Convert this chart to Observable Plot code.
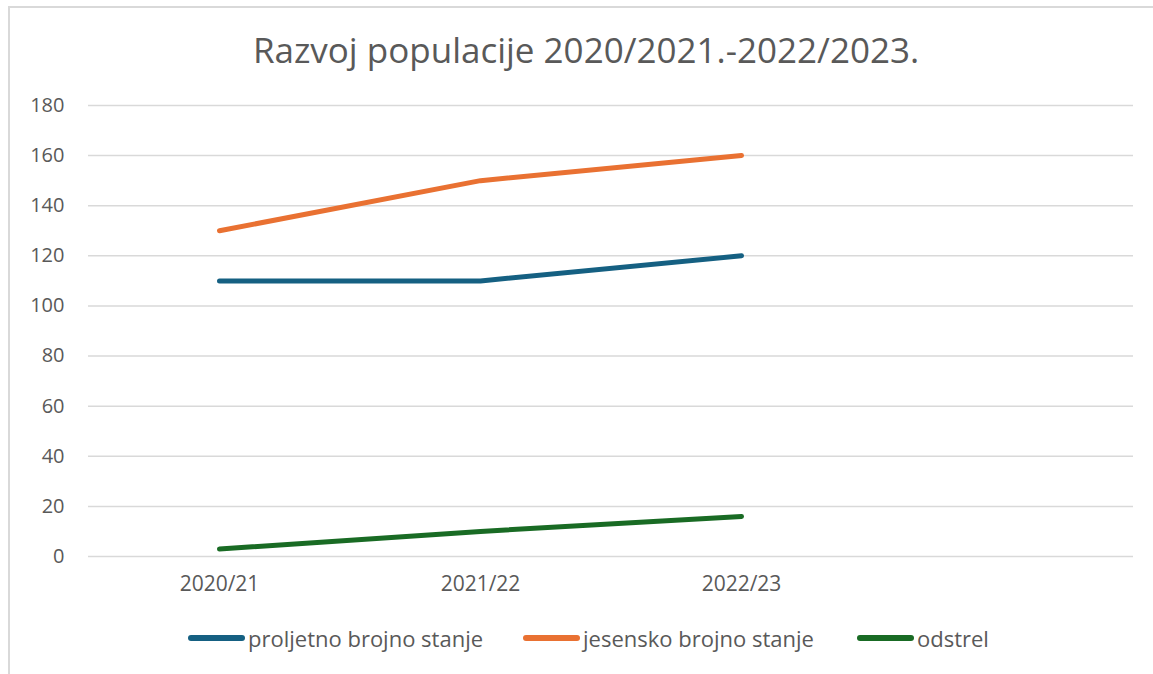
<!DOCTYPE html>
<html>
<head>
<meta charset="utf-8">
<script src="https://cdn.jsdelivr.net/npm/d3@7"></script>
<script src="https://cdn.jsdelivr.net/npm/@observablehq/plot@0.6"></script>
<style>
  html, body { margin: 0; padding: 0; background: #fff; }
  body { width: 1153px; height: 674px; position: relative; overflow: hidden; font-family: "Open Sans", "Liberation Sans", Arial, sans-serif; color: #595959; }
  #frame { position: absolute; left: 8px; top: 6px; width: 1200px; height: 700px; border-top: 2px solid #d9d9d9; border-left: 2px solid #d9d9d9; box-sizing: border-box; }
  #title { position: absolute; left: 0; top: 28px; width: 1172px; text-align: center; font-size: 35px; line-height: 44px; }
  #chart { position: absolute; left: 0; top: 80px; }
  #legend { position: absolute; top: 622px; left: 0; width: 1153px; height: 32px; font-size: 22px; }
  .item { position: absolute; top: 0; display: flex; align-items: center; height: 32px; }
  .sw { width: 57px; height: 6px; border-radius: 3px; margin-right: 3px; }
</style>
</head>
<body>
<div id="frame"></div>
<div id="title">Razvoj populacije 2020/2021.-2022/2023.</div>
<div id="chart"></div>
<div id="legend"></div>
<script>
const tickLabels = ["2020/21", "2021/22", "2022/23", ""];
const seasons = ["2020/21", "2021/22", "2022/23"];
const seriesNames = ["proljetno brojno stanje", "jesensko brojno stanje", "odstrel"];
const proljetno = [110, 110, 120];
const jesensko = [130, 150, 160];
const odstrel = [3, 10, 16];
const colors = ["#156082", "#E97132", "#196B24"];
const yTicks = [0, 20, 40, 60, 80, 100, 120, 140, 160, 180];

const seriesValues = [proljetno, jesensko, odstrel];
const rows = [];
seriesNames.forEach((name, i) => {
  seasons.forEach((s, j) => rows.push({series: name, season: s, value: seriesValues[i][j]}));
});

const font = '"Open Sans", "Liberation Sans", Arial, sans-serif';
const chart = Plot.plot({
  width: 1153,
  height: 520,
  marginLeft: 88,
  marginRight: 20,
  marginTop: 25,
  marginBottom: 44,
  style: {fontFamily: font, fontSize: "20px", color: "#595959", background: "transparent"},
  x: {type: "point", domain: tickLabels, padding: 0.5, label: null},
  y: {domain: [0, 180], label: null},
  color: {domain: seriesNames, range: colors},
  marks: [
    Plot.ruleY(yTicks, {stroke: "#d9d9d9", strokeWidth: 1.5}),
    Plot.axisY(yTicks, {tickSize: 0, tickPadding: 24, label: null, fontSize: 20, fill: "#595959"}),
    Plot.axisX(tickLabels, {tickSize: 0, tickPadding: 20, label: null, fontSize: 21, fill: "#595959"}),
    Plot.line(rows, {x: "season", y: "value", z: "series", stroke: "series", strokeWidth: 5, strokeLinecap: "round", strokeLinejoin: "round"})
  ]
});
document.getElementById("chart").appendChild(chart);

const legend = document.getElementById("legend");
const legendLeft = [188, 523, 857];
seriesNames.forEach((name, i) => {
  const it = document.createElement("div");
  it.className = "item";
  it.style.left = legendLeft[i] + "px";
  const sw = document.createElement("div");
  sw.className = "sw";
  sw.style.background = colors[i];
  const t = document.createElement("span");
  t.textContent = name;
  it.appendChild(sw);
  it.appendChild(t);
  legend.appendChild(it);
});
</script>
</body>
</html>
